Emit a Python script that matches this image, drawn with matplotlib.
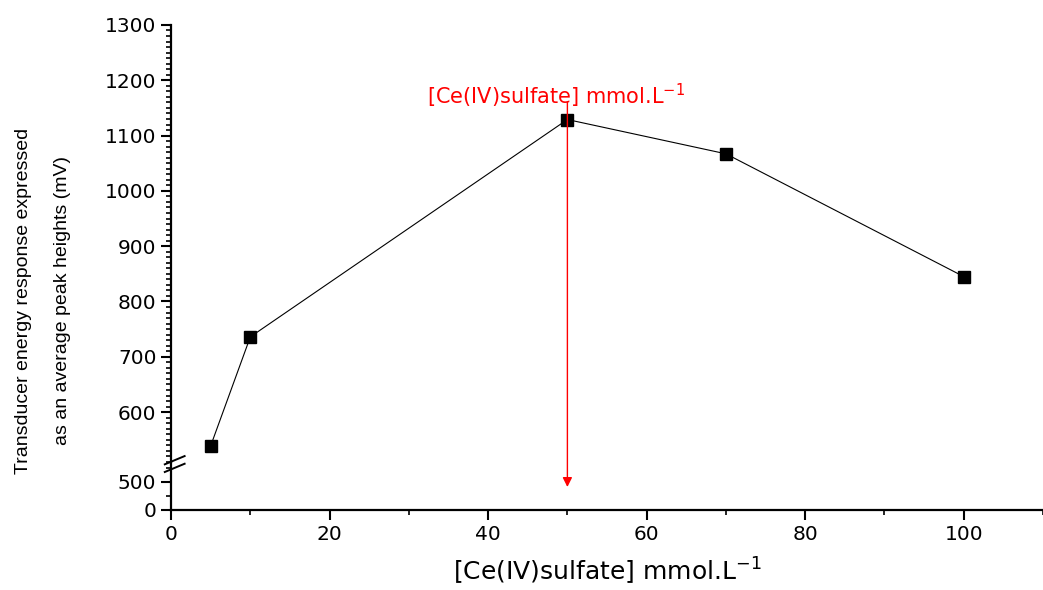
import numpy as np
import matplotlib.pyplot as plt
from matplotlib.patches import ConnectionPatch
from matplotlib.ticker import MultipleLocator

plt.rcParams['font.family'] = ['DejaVu Sans']

conc = [5, 10, 50, 70, 100]
response = [539, 736, 1129, 1067, 845]
upper_ticks = [600, 700, 800, 900, 1000, 1100, 1200, 1300]
lower_ticks = [0, 500]
x_ticks = [0, 20, 40, 60, 80, 100]

fig = plt.figure(figsize=(10.43, 5.90), dpi=100)
ax_up = fig.add_axes([0.164, 0.2153, 0.836, 0.7424])
ax_lo = fig.add_axes([0.164, 0.1356, 0.836, 0.0797], sharex=ax_up)

ax_up.plot(conc, response, color='black', lw=0.8, marker='s', ms=8, mfc='black', mec='black')

for ax in (ax_up, ax_lo):
    ax.spines['right'].set_visible(False)
    ax.spines['top'].set_visible(False)
    ax.spines['left'].set_linewidth(1.6)
    ax.spines['bottom'].set_linewidth(1.6)
    ax.tick_params(axis='both', which='major', direction='out', length=7, width=1.5, labelsize=14.5)
    ax.tick_params(axis='both', which='minor', direction='out', length=3.5, width=1.2)

ax_up.spines['bottom'].set_visible(False)
ax_up.tick_params(axis='x', which='both', bottom=False, labelbottom=False)
ax_up.set_ylim(508, 1300)
ax_up.set_yticks(upper_ticks)
ax_up.yaxis.set_minor_locator(MultipleLocator(10))

ax_lo.set_ylim(0, 839)
ax_lo.set_yticks(lower_ticks)
ax_lo.yaxis.set_minor_locator(MultipleLocator(250))
ax_lo.set_xlim(0, 110)
ax_lo.set_xticks(x_ticks)
ax_lo.xaxis.set_minor_locator(MultipleLocator(10))
ax_lo.set_xlabel('[Ce(IV)sulfate] mmol.L$^{-1}$', fontsize=18, labelpad=9)

# break marks on the y axis
for yy in (0.2060, 0.2190):
    fig.add_artist(plt.Line2D([0.158, 0.177], [yy - 0.006, yy + 0.008], color='black', lw=1.4))

# red arrow at the optimum concentration
arrow = ConnectionPatch(xyA=(50, 1161), coordsA=ax_up.transData,
                        xyB=(50, 410), coordsB=ax_lo.transData,
                        arrowstyle='-|>', color='red', lw=1, mutation_scale=14)
fig.add_artist(arrow)
ax_up.text(48.6, 1172, '[Ce(IV)sulfate] mmol.L$^{-1}$', color='red', fontsize=15,
           ha='center', va='center')

fig.text(0.041, 0.49, 'Transducer energy response expressed\nas an average peak heights (mV)',
         rotation=90, ha='center', va='center', fontsize=14, linespacing=2.7,
         family=['Liberation Sans', 'DejaVu Sans'])

fig.savefig('out.png', dpi=100)
